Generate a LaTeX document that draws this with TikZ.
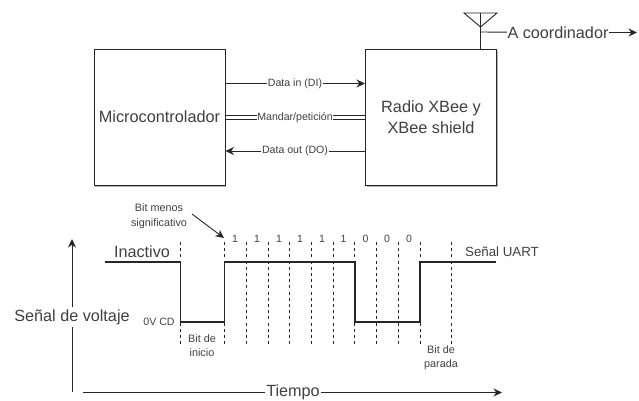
\documentclass[tikz,border=0pt]{standalone}
\usepackage{fontspec}
\setmainfont{Liberation Sans}
\usetikzlibrary{arrows.meta,shadows}
\definecolor{ln}{gray}{0.15}
\definecolor{tx}{gray}{0.25}
\tikzset{
  x=1pt,y=-1pt,
  box/.style={draw=ln,line width=1pt,fill=white,minimum width=131pt,minimum height=136pt,align=center,text=tx,font=\fontsize{16.3}{21}\selectfont,inner sep=0pt,drop shadow={shadow xshift=1.2pt,shadow yshift=-1.5pt,opacity=0.3,fill=black}},
  wire/.style={draw=ln,line width=0.9pt},
  arrowwire/.style={wire,-{Stealth[length=8.5pt,width=8pt]}},
  lab/.style={fill=white,text=tx,inner sep=0.5pt,font=\fontsize{10.6}{12}\selectfont},
  big/.style={text=tx,inner sep=0.5pt,font=\fontsize{16.2}{18}\selectfont},
  small/.style={text=tx,inner sep=0pt,align=center,font=\fontsize{10.8}{14.5}\selectfont},
  bitl/.style={text=tx,inner sep=0pt,font=\fontsize{10.5}{12}\selectfont},
  tick/.style={draw=ln,line width=1pt,dash pattern=on 3pt off 3.2pt},
  sig/.style={draw=ln,line width=1.8pt,line join=miter},
}
\begin{document}
\begin{tikzpicture}
\useasboundingbox (0,0) rectangle (639,400);
\node[box] (mc) at (159.5,117) {Microcontrolador};
\node[box] (rad) at (431,117) {Radio XBee y\\XBee shield};
% wires
\node[lab] (dil) at (295,83.5) {Data in (DI)};
\node[lab] (mal) at (295,117.5) {Mandar/petición};
\node[lab] (dol) at (295,151) {Data out (DO)};
\draw[wire] (mc.east|-dil) -- (dil);
\draw[arrowwire] (dil) -- (rad.west|-dil);
\draw[arrowwire] (dol) -- (mc.east|-dol);
\draw[wire] (rad.west|-dol) -- (dol);
\draw[wire,double=white,double distance=3.6pt] (mc.east|-mal) -- (mal);
\draw[wire,double=white,double distance=3.6pt] (mal) -- (rad.west|-mal);
% antenna
\coordinate (anL) at (464,13);
\coordinate (anR) at (497,13);
\coordinate (anT) at (480.5,13);
\coordinate (anB) at (480.5,27);
\coordinate (anJ) at (480.5,32);
\coordinate (acE) at (637,32);
\draw[wire] (anL) -- (anB) -- (anR) -- cycle;
\draw[wire] (anT) -- (rad.north-|anT);
\node[big,fill=white] (ac) at (558,32.5) {A coordinador};
\draw[wire] (anJ) -- (ac);
\draw[arrowwire] (ac) -- (acE|-ac);
% ticks
\foreach \n/\x/\b in {a/180/345,b/224.5/345,c/246/345,d/268/345,e/289.7/345,f/311.3/345,g/333/345,h/354.7/345,i/376.7/345,j/398.3/345,k/420.3/345,l/451.7/345}{
  \coordinate (t\n) at (\x,242);
  \coordinate (u\n) at (\x,\b);
  \draw[tick] (t\n) -- (u\n);
}
% signal
\coordinate (s0) at (105,262.3);
\coordinate (s1) at (180.5,262.3);
\coordinate (s2) at (180.5,321.8);
\coordinate (s3) at (224.5,321.8);
\coordinate (s4) at (224.5,262.3);
\coordinate (s5) at (354.7,262.3);
\coordinate (s6) at (354.7,321.8);
\coordinate (s7) at (420.3,321.8);
\coordinate (s8) at (420.3,262.3);
\coordinate (s9) at (496,262.3);
\draw[sig] (s0) -- (s1) -- (s2) -- (s3) -- (s4) -- (s5) -- (s6) -- (s7) -- (s8) -- (s9);
% bit labels
\foreach \n/\x/\t in {1/235/1,2/257/1,3/279/1,4/300/1,5/322/1,6/343.5/1,7/365.5/0,8/387/0,9/409/0}{
  \node[bitl] (b\n) at (\x,239) {\t};
}
\node[small] (lsb) at (159,216) {Bit menos\\significativo};
\coordinate (lsbS) at (192,214);
\coordinate (lsbE) at (224,238);
\draw[wire,-{Stealth[length=8.5pt,width=8pt]}] (lsbS) -- (lsbE);
\node[big] (ina) at (142,252) {Inactivo};
\node[text=tx,inner sep=0pt,font=\fontsize{10.6}{12}\selectfont] (ov) at (159,322) {0V CD};
\node[small] (bi) at (202,345.5) {Bit de\\inicio};
\node[small] (bp) at (441,357.5) {Bit de\\parada};
\node[text=tx,inner sep=0pt,font=\fontsize{13.3}{15}\selectfont] (ua) at (502,252) {Señal UART};
% axes
\coordinate (vB) at (72,392);
\coordinate (vT) at (72,239);
\coordinate (hL) at (83,392.5);
\coordinate (hR) at (502,392.5);
\node[big,fill=white,inner sep=2pt] (sv) at (72,317) {Señal de voltaje};
\draw[wire] (vB) -- (sv);
\draw[arrowwire] (sv) -- (vT);
\node[big,fill=white,inner sep=1pt] (ti) at (293,392.5) {Tiempo};
\draw[wire] (hL) -- (ti);
\draw[arrowwire] (ti) -- (hR);
\end{tikzpicture}
\end{document}
